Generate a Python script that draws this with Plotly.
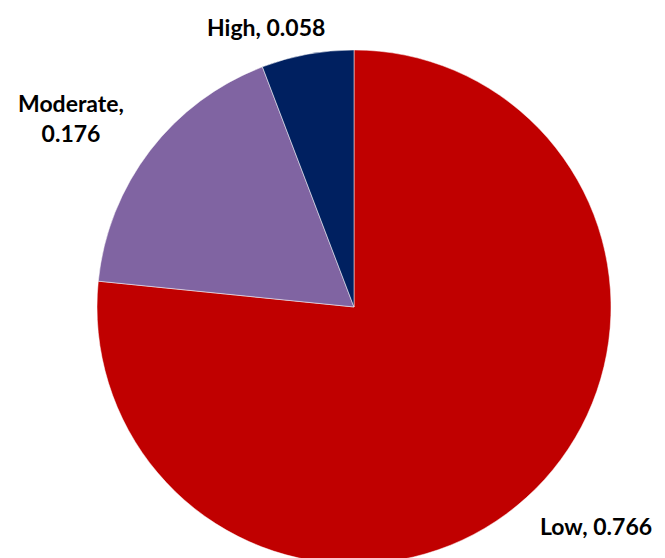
import plotly.graph_objects as go

categories = ["Low", "Moderate", "High"]
values = [0.766, 0.176, 0.058]
colors = ["#C00000", "#8064A2", "#002060"]
label_formats = ["{c}, {v}", "{c},<br>{v}", "{c}, {v}"]
# label anchor positions (paper coords) for the outside labels
label_pos = [(0.884, 0.0717), (0.0947, 0.803), (0.388, 0.966)]

fig = go.Figure(go.Pie(
    labels=categories,
    values=values,
    sort=False,
    direction="clockwise",
    rotation=0,
    marker=dict(colors=colors, line=dict(color="white", width=0.5)),
    textinfo="none",
    showlegend=False,
    hoverinfo="label+value",
    domain=dict(x=[0.1338, 0.9068], y=[0.0036, 0.9248]),
    automargin=False,
))

for c, v, fmt, (px, py) in zip(categories, values, label_formats, label_pos):
    fig.add_annotation(
        x=px, y=py, xref="paper", yref="paper",
        text=fmt.format(c=c, v=v), showarrow=False,
        xanchor="center", yanchor="middle", align="center",
        font=dict(family="Lato", size=23, color="black", weight="bold"),
    )

fig.update_layout(
    width=665, height=558,
    margin=dict(l=0, r=0, t=0, b=0),
    paper_bgcolor="white",
    plot_bgcolor="white",
)

fig.write_html("out.html")
